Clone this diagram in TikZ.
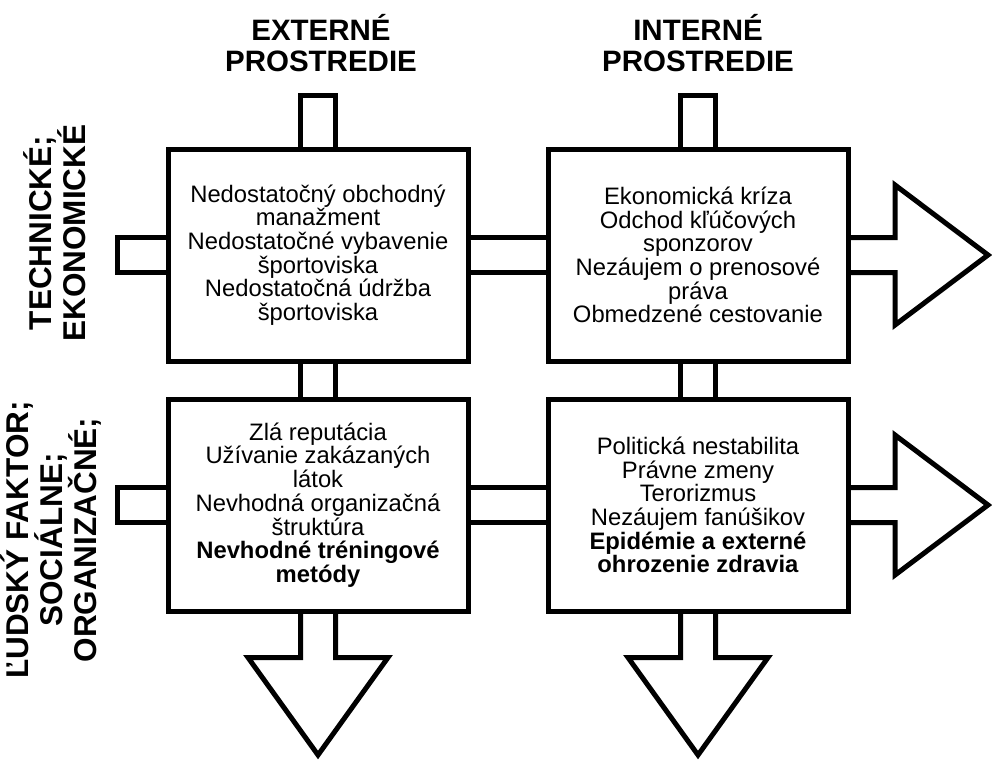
\documentclass[tikz,border=0pt]{standalone}
\usepackage{fontspec}
\setmainfont{Liberation Sans}
\usepackage{tikz}

\begin{document}
\begin{tikzpicture}[x=1pt, y=-1pt, line width=5pt, line join=miter,
  box/.style={draw, fill=white, minimum width=300pt, minimum height=212pt,
    inner sep=0pt, align=center, font=\fontsize{23.8}{23.7}\selectfont},
  bar/.style={double distance=30pt},
  title/.style={align=center, font=\bfseries\fontsize{29.5}{31}\selectfont},
  side/.style={align=center, rotate=90, font=\bfseries\fontsize{31.5}{30}\selectfont}]

\useasboundingbox (0,0) rectangle (992,763);

%% stubs
\draw[fill=white] (300.5,149) -- (300.5,95.5) -- (335.5,95.5) -- (335.5,149);   %% ext top
\draw[fill=white] (680.5,149) -- (680.5,95.5) -- (715.5,95.5) -- (715.5,149);   %% int top
\draw[fill=white] (168,237.5) -- (117.5,237.5) -- (117.5,272.5) -- (168,272.5); %% tech left
\draw[fill=white] (168,487.5) -- (117.5,487.5) -- (117.5,522.5) -- (168,522.5); %% hum left

%% arrows
\draw[fill=white] (848,237.5) -- (895,237.5) -- (895,185) -- (988,255)
  -- (895,325) -- (895,272.5) -- (848,272.5);                                   %% tech right
\draw[fill=white] (848,487.5) -- (895,487.5) -- (895,435) -- (988,505)
  -- (895,575) -- (895,522.5) -- (848,522.5);                                   %% hum right
\draw[fill=white] (300.5,611) -- (300.5,657.5) -- (248,657.5) -- (318,755)
  -- (388,657.5) -- (335.5,657.5) -- (335.5,611);                               %% ext down
\draw[fill=white] (680.5,611) -- (680.5,657.5) -- (628,657.5) -- (698,755)
  -- (768,657.5) -- (715.5,657.5) -- (715.5,611);                               %% int down

%% boxes
\node[box] (extTech) at (318,255) {Nedostatočný obchodný\\manažment\\Nedostatočné vybavenie\\športoviska\\Nedostatočná údržba\\športoviska};
\node[box] (intTech) at (698,255) {Ekonomická kríza\\Odchod kľúčových\\sponzorov\\Nezáujem o prenosové\\práva\\Obmedzené cestovanie};
\node[box] (extHum) at (318,505) {Zlá reputácia\\Užívanie zakázaných\\látok\\Nevhodná organizačná\\štruktúra\\\textbf{Nevhodné tréningové}\\\textbf{metódy}};
\node[box] (intHum) at (698,505) {Politická nestabilita\\Právne zmeny\\Terorizmus\\Nezáujem fanúšikov\\\textbf{Epidémie a externé}\\\textbf{ohrozenie zdravia}};

%% bars
\draw[bar] (extTech) -- (intTech);
\draw[bar] (extHum) -- (intHum);
\draw[bar] (extTech) -- (extHum);
\draw[bar] (intTech) -- (intHum);

%% labels
\node[title] (extTitle) at (321,43) {EXTERNÉ\\PROSTREDIE};
\node[title] (intTitle) at (698,43) {INTERNÉ\\PROSTREDIE};
\node[side] (techLabel) at (55,233) {TECHNICKÉ;\\EKONOMICKÉ};
\node[side] (humLabel) at (51,540) {ĽUDSKÝ FAKTOR;\\SOCIÁLNE;\\ORGANIZAČNÉ;};

\end{tikzpicture}
\end{document}
